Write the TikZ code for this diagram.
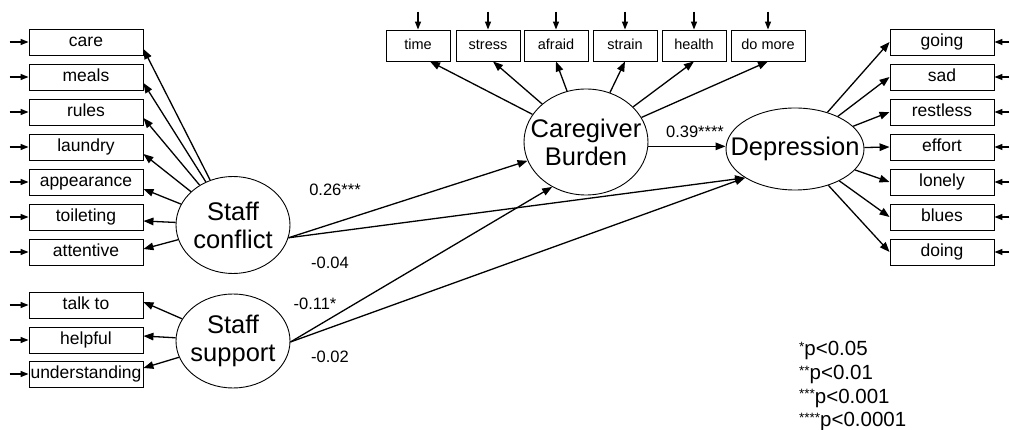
\documentclass[tikz,border=0pt]{standalone}
\usepackage{fontspec}
\setmainfont{Liberation Sans}
\usetikzlibrary{arrows.meta,shapes.geometric}
\newcommand\legstars[1]{\raisebox{4.5pt}{\fontsize{13.5}{14}\selectfont #1}}
\begin{document}
\begin{tikzpicture}[x=1pt,y=-1pt,
 obs/.style={draw,line width=0.9pt,minimum width=114pt,minimum height=26pt,inner sep=0pt,text height=12.5pt,text depth=3.5pt,font=\fontsize{17.5}{20}\selectfont},
 robs/.style={obs,minimum width=104pt},
 topbox/.style={draw,line width=0.9pt,minimum width=64pt,minimum height=31pt,inner sep=0pt,text height=10.5pt,text depth=3pt,font=\fontsize{14.5}{17}\selectfont},
 lat/.style={draw,ellipse,line width=0.9pt,inner sep=0pt},
 lattext/.style={font=\fontsize{25.5}{28}\selectfont,align=center,inner sep=0pt},
 arr/.style={-{Triangle[length=10pt,width=7.5pt]},line width=1.3pt},
 earr/.style={-{Triangle[length=8pt,width=6pt]},line width=1.3pt},
 coef/.style={inner sep=0pt,font=\fontsize{16.5}{19}\selectfont},
 leg/.style={inner sep=0pt,anchor=base west,font=\fontsize{20.5}{23}\selectfont},
]
\useasboundingbox (0,0) rectangle (1010,430);

% latent variables
\node[lat,minimum width=114pt,minimum height=97pt,label={[lattext]center:Staff\\conflict}] (conflict) at (233,225) {};
\node[lat,minimum width=114pt,minimum height=94pt,label={[lattext]center:Staff\\support}] (support) at (233,341) {};
\node[lat,minimum width=124pt,minimum height=106pt,label={[lattext]center:Caregiver\\Burden}] (burden) at (586,142) {};
\node[lat,minimum width=138pt,minimum height=82pt,label={[lattext]center:Depression}] (dep) at (795,149) {};

% left indicators of staff conflict
\node[obs] (care) at (86,42) {care};
\node[obs] (meals) at (86,77) {meals};
\node[obs] (rules) at (86,112) {rules};
\node[obs] (laundry) at (86,147) {laundry};
\node[obs] (appearance) at (86,182) {appearance};
\node[obs] (toileting) at (86,217) {toileting};
\node[obs] (attentive) at (86,252) {attentive};
% staff support indicators
\node[obs] (talkto) at (86,305) {talk to};
\node[obs] (helpful) at (86,340) {helpful};
\node[obs] (understanding) at (86,374) {understanding};

% burden indicators
\node[topbox] (time) at (418,45.5) {time};
\node[topbox] (stress) at (488,45.5) {stress};
\node[topbox] (afraid) at (556,45.5) {afraid};
\node[topbox] (strain) at (625,45.5) {strain};
\node[topbox] (health) at (694,45.5) {health};
\node[topbox,minimum width=74pt] (domore) at (768,45.5) {do more};

% depression indicators
\node[robs] (going) at (942,42) {going};
\node[robs] (sad) at (942,77) {sad};
\node[robs] (restless) at (942,112) {restless};
\node[robs] (effort) at (942,147) {effort};
\node[robs] (lonely) at (942,182) {lonely};
\node[robs] (blues) at (942,217) {blues};
\node[robs] (doing) at (942,252) {doing};

% error arrows
\foreach \n in {care,meals,rules,laundry,appearance,toileting,attentive,talkto,helpful,understanding}{
  \coordinate (e\n) at ([xshift=-19pt]\n.west);
  \draw[earr] (e\n) -- (\n.west);
}
\foreach \n in {going,sad,restless,effort,lonely,blues,doing}{
  \coordinate (e\n) at ([xshift=15pt]\n.east);
  \draw[earr] (e\n) -- (\n.east);
}
\foreach \n in {time,stress,afraid,strain,health,domore}{
  \coordinate (e\n) at ([yshift=18pt]\n.north);
  \draw[earr] (e\n) -- (\n.north);
}

% loadings: staff conflict
\draw[arr] (conflict) -- ([yshift=-7pt]care.east);
\draw[arr] (conflict) -- ([yshift=-6pt]meals.east);
\draw[arr] (conflict) -- ([yshift=-6pt]rules.east);
\draw[arr] (conflict) -- ([yshift=-7pt]laundry.east);
\draw[arr] (conflict) -- ([yshift=-7pt]appearance.east);
\draw[arr] (conflict) -- ([yshift=-4pt]toileting.east);
\draw[arr] (conflict) -- ([yshift=3pt]attentive.east);
% loadings: staff support
\draw[arr] (support) -- ([yshift=3pt]talkto.east);
\draw[arr] (support) -- ([yshift=4pt]helpful.east);
\draw[arr] (support) -- ([yshift=6pt]understanding.east);
% loadings: burden
\draw[arr] (burden) -- ([xshift=12pt]time.south);
\draw[arr] (burden) -- ([xshift=5pt]stress.south);
\draw[arr] (burden) -- (afraid.south);
\draw[arr] (burden) -- (strain.south);
\draw[arr] (burden) -- (health.south);
\draw[arr] (burden) -- (domore.south);
% loadings: depression
\foreach \n in {going,sad,restless,effort,lonely,blues,doing}{
  \draw[arr] (dep) -- (\n.west);
}

% structural paths
\draw[arr] (conflict.-13) -- (burden);
\draw[arr] (conflict.-13) -- (dep.210);
\draw[arr] (support.-1) -- (burden.233);
\draw[arr] (support.-1) -- (dep.210);
\draw[arr] (burden.-4) -- (burden.-4 -| dep.west);

% coefficients
\node[coef] (c1) at (335,190) {0.26***};
\node[coef] (c2) at (330,263) {-0.04};
\node[coef] (c3) at (315,304) {-0.11*};
\node[coef] (c4) at (330,357) {-0.02};
\node[coef] (c5) at (695,132) {0.39****};

% legend
\node[leg] (l1) at (799,356) {\legstars{*}p<0.05};
\node[leg] (l2) at (799,380) {\legstars{**}p<0.01};
\node[leg] (l3) at (799,403) {\legstars{***}p<0.001};
\node[leg] (l4) at (799,427) {\legstars{****}p<0.0001};
\end{tikzpicture}
\end{document}
